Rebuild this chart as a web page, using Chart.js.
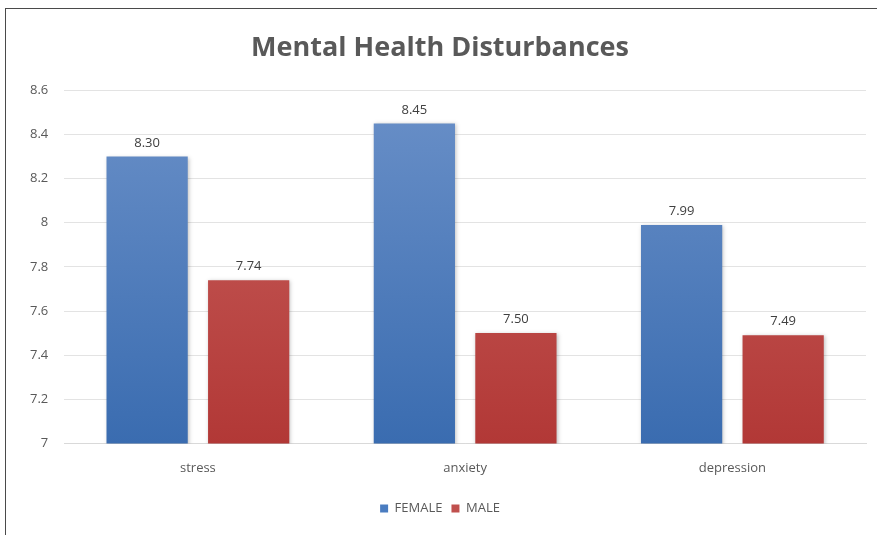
<!DOCTYPE html>
<html>
<head>
<meta charset="utf-8">
<script src="https://cdn.jsdelivr.net/npm/chart.js@4/dist/chart.umd.min.js"></script>
<style>
  html, body { margin: 0; padding: 0; background: #fff; }
  #wrap { position: relative; width: 877px; height: 535px; overflow: hidden; }
  #frame { position: absolute; left: 5px; top: 8px; width: 900px; height: 600px;
           border-top: 1.5px solid #4a4a4a; border-left: 1.5px solid #4a4a4a; }
  canvas { position: absolute; left: 0; top: 0; }
</style>
</head>
<body>
<div id="wrap">
  <div id="frame"></div>
  <canvas id="chart" width="877" height="535"></canvas>
</div>
<script>
// 카테고리와 성별 점수
const categories = ['stress', 'anxiety', 'depression'];
const femaleValues = [8.30, 8.45, 7.99];
const maleValues = [7.74, 7.50, 7.49];

const FONT = '"Open Sans", sans-serif';

// 막대 위쪽은 밝고 아래쪽은 진한 그라데이션
function barGradient(topColor, bottomColor) {
    return function (context) {
        const area = context.chart.chartArea;
        if (!area) return bottomColor;
        const g = context.chart.ctx.createLinearGradient(0, area.top, 0, area.bottom);
        g.addColorStop(0, topColor);
        g.addColorStop(1, bottomColor);
        return g;
    };
}

// 막대 위에 값 표시
const valueLabels = {
    id: 'valueLabels',
    afterDatasetsDraw(chart) {
        const ctx = chart.ctx;
        ctx.save();
        ctx.font = '13px ' + FONT;
        ctx.fillStyle = '#404040';
        ctx.textAlign = 'center';
        ctx.textBaseline = 'bottom';
        chart.data.datasets.forEach((ds, i) => {
            chart.getDatasetMeta(i).data.forEach((bar, j) => {
                ctx.fillText(ds.data[j].toFixed(2), bar.x, bar.y - 7);
            });
        });
        ctx.restore();
    }
};

// 막대에 옅은 그림자
const barShadow = {
    id: 'barShadow',
    beforeDatasetsDraw(chart) {
        const ctx = chart.ctx;
        ctx.save();
        ctx.shadowColor = 'rgba(0,0,0,0.25)';
        ctx.shadowBlur = 4;
        ctx.shadowOffsetX = 1;
        ctx.shadowOffsetY = 1;
    },
    afterDatasetsDraw(chart) {
        chart.ctx.restore();
    }
};

const ctx = document.getElementById('chart').getContext('2d');
new Chart(ctx, {
    type: 'bar',
    data: {
        labels: categories,
        datasets: [{
            label: 'FEMALE',
            data: femaleValues,
            backgroundColor: barGradient('#6a90c8', '#3a6cb0'),
            borderWidth: 0
        }, {
            label: 'MALE',
            data: maleValues,
            backgroundColor: barGradient('#c9625f', '#b23836'),
            borderWidth: 0
        }]
    },
    options: {
        responsive: false,
        animation: false,
        devicePixelRatio: 1,
        categoryPercentage: 0.76,
        barPercentage: 0.8,
        layout: { padding: { left: 14, right: 11, top: 32, bottom: 10 } },
        plugins: {
            title: {
                display: true,
                text: 'Mental Health Disturbances',
                color: '#595959',
                font: { family: FONT, size: 27, weight: 'bold' },
                padding: { top: 0, bottom: 26 }
            },
            legend: {
                position: 'bottom',
                labels: {
                    color: '#595959',
                    font: { family: FONT, size: 13 },
                    boxWidth: 8,
                    boxHeight: 8,
                    padding: 9,
                    generateLabels(chart) {
                        return chart.data.datasets.map((ds, i) => ({
                            text: ds.label,
                            fillStyle: i === 0 ? '#4a7cc0' : '#c0504d',
                            strokeStyle: 'transparent',
                            lineWidth: 0,
                            fontColor: '#595959',
                            datasetIndex: i
                        }));
                    }
                }
            },
            tooltip: { enabled: false }
        },
        scales: {
            x: {
                grid: { display: false, drawTicks: false },
                border: { color: '#d9d9d9' },
                ticks: {
                    color: '#595959',
                    font: { family: FONT, size: 13 },
                    padding: 17
                }
            },
            y: {
                min: 7,
                max: 8.6,
                grid: { color: '#e3e3e3', drawTicks: false },
                border: { display: false },
                ticks: {
                    stepSize: 0.2,
                    color: '#595959',
                    font: { family: FONT, size: 13 },
                    padding: 16,
                    callback: v => String(Number(v.toFixed(1)))
                }
            }
        }
    },
    plugins: [barShadow, valueLabels]
});
</script>
</body>
</html>
